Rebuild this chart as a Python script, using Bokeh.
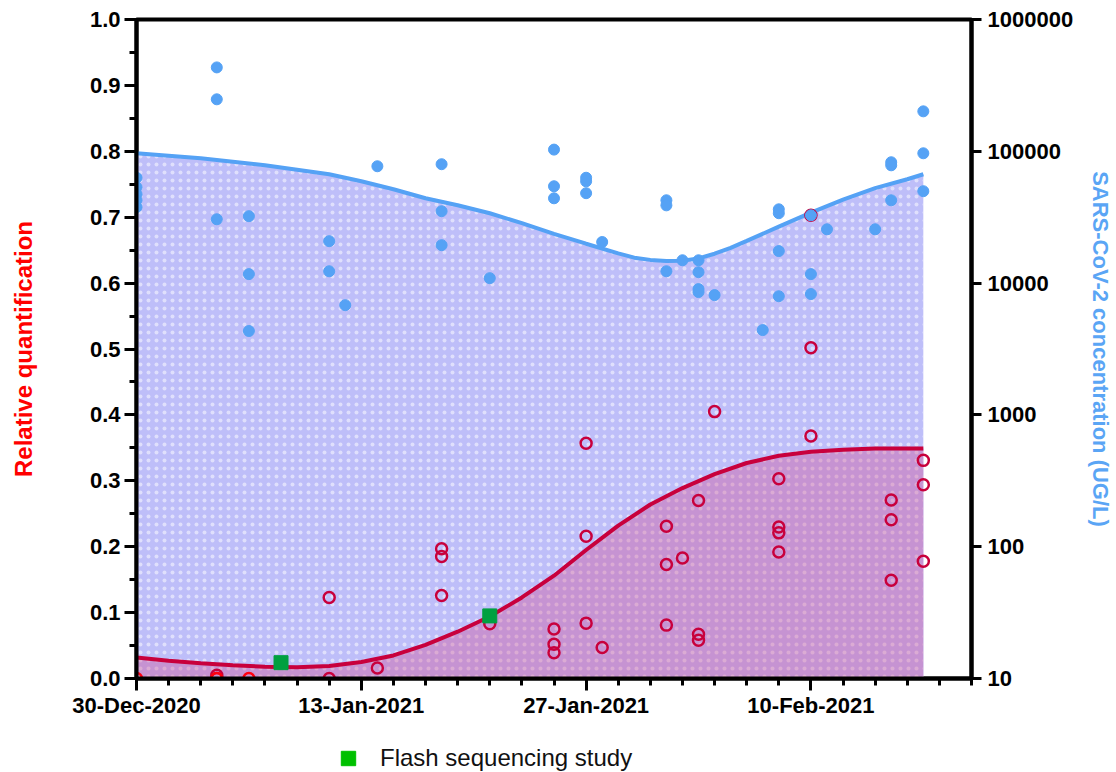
from bokeh.plotting import figure
from bokeh.layouts import column
from bokeh.models import (Range1d, LogScale, LogAxis, LinearAxis, FixedTicker,
                          Legend, LegendItem)
from bokeh.embed import file_html
from bokeh.resources import INLINE

# ---------------- data ----------------
# x: days since 30-Dec-2020
x_tick_days = [0, 14, 28, 42]
x_tick_labels = ["30-Dec-2020", "13-Jan-2021", "27-Jan-2021", "10-Feb-2021"]
x_minor_days = list(range(0, 53, 2))

y_left_ticks = [0.0, 0.1, 0.2, 0.3, 0.4, 0.5, 0.6, 0.7, 0.8, 0.9, 1.0]
y_left_labels = ["0.0", "0.1", "0.2", "0.3", "0.4", "0.5", "0.6", "0.7", "0.8", "0.9", "1.0"]
y_left_minor = [0.05, 0.15, 0.25, 0.35, 0.45, 0.55, 0.65, 0.75, 0.85, 0.95]

y_right_ticks = [10, 100, 1000, 10000, 100000, 1000000]
y_right_labels = ["10", "100", "1000", "10000", "100000", "1000000"]

# SARS-CoV-2 concentration (blue dots)
conc_days = [0, 0, 0, 0, 0, 5, 5, 5, 7, 7, 7, 12, 12, 13, 15, 19, 19, 19, 22,
             26, 26, 26, 28, 28, 28, 29, 33, 33, 33, 34, 35, 35, 35, 35, 36, 39,
             40, 40, 40, 40, 42, 42, 42, 43, 46, 47, 47, 47, 49, 49, 49]
conc_vals = [63000, 53300, 47200, 42500, 37700, 433000, 248000, 30500,
             32200, 11700, 4330, 20800, 12300, 6800, 77000, 79800, 35100, 19400,
             10900, 103000, 54300, 44000, 63000, 59200, 48100, 20500,
             42500, 38900, 12300, 14900, 14900, 12100, 9010, 8550, 8110, 4400,
             36300, 33900, 17500, 7950, 32700, 11700, 8260, 25600, 25600,
             82600, 78300, 42500, 201000, 96600, 49800]

# Relative quantification (open circles)
rq_days = [5, 12, 12, 15, 19, 19, 19, 22, 26, 26, 26, 28, 28, 28, 29,
           33, 33, 33, 34, 35, 35, 35, 36, 40, 40, 40, 40, 42, 42, 42,
           47, 47, 47, 49, 49, 49]
rq_vals = [0.005, 0.123, 0.0, 0.016, 0.197, 0.185, 0.126, 0.083,
           0.075, 0.052, 0.039, 0.357, 0.216, 0.084, 0.047,
           0.231, 0.173, 0.081, 0.183, 0.270, 0.067, 0.058, 0.405,
           0.303, 0.230, 0.221, 0.192, 0.703, 0.502, 0.368,
           0.271, 0.241, 0.149, 0.331, 0.294, 0.178]
rq_zero_days = [0, 5, 5, 7]
rq_zero_vals = [0.0, 0.0, 0.0, 0.0]

# Flash sequencing study
flash_days = [9, 22]
flash_vals = [0.024, 0.095]
flash_label = "Flash sequencing study"

# smoothed trend of concentration
conc_curve_days = [0, 4, 8, 12, 14, 16, 18, 20, 22, 24, 26, 28, 30, 31, 32, 33, 34,
                   35, 36, 37, 38, 40, 42, 44, 46, 48, 49]
conc_curve_vals = [96600, 88500, 78300, 67000, 59300, 51500, 44000, 39000, 33900,
                   28500, 23600, 19900, 16800, 15600, 15000, 14700, 14800, 15400,
                   16700, 18500, 20900, 26800, 34300, 43000, 52500, 61400, 67000]

# smoothed trend of relative quantification
rq_curve_days = [0, 2, 4, 6, 8, 10, 12, 14, 16, 18, 20, 22, 24, 26, 28, 30, 32, 34,
                 36, 38, 40, 42, 44, 46, 49]
rq_curve_vals = [0.032, 0.027, 0.023, 0.020, 0.018, 0.017, 0.019, 0.025, 0.035,
                 0.051, 0.071, 0.094, 0.123, 0.156, 0.195, 0.232, 0.264, 0.289,
                 0.310, 0.327, 0.338, 0.344, 0.347, 0.349, 0.349]

# ---------------- figure ----------------
FONT = "Liberation Sans"

p = figure(width=1116, height=730, output_backend="svg", toolbar_location=None,
           x_range=Range1d(0, 52), y_range=Range1d(0, 1.0),
           min_border_left=136, min_border_right=138, min_border_top=19,
           min_border_bottom=52, x_axis_type=None, y_axis_type=None)
p.grid.visible = False
p.outline_line_color = "black"
p.outline_line_width = 4
p.background_fill_color = "white"
p.border_fill_color = "white"

p.extra_y_ranges = {"conc": Range1d(10, 1000000)}
p.extra_y_scales = {"conc": LogScale()}

# areas
p.varea(x=conc_curve_days, y1=[10] * len(conc_curve_days), y2=conc_curve_vals,
        y_range_name="conc", fill_color="#bebef9", fill_alpha=1.0,
        hatch_pattern="dot", hatch_color="white", hatch_alpha=0.5,
        hatch_scale=8, hatch_weight=1)
p.varea(x=rq_curve_days, y1=[0] * len(rq_curve_days), y2=rq_curve_vals,
        fill_color="#c693d2", fill_alpha=1.0,
        hatch_pattern="dot", hatch_color="#f4c8d8", hatch_alpha=0.45,
        hatch_scale=8, hatch_weight=1)

# curves
p.line(conc_curve_days, conc_curve_vals, y_range_name="conc", line_color="#55a2f5",
       line_width=4)
p.line(rq_curve_days, rq_curve_vals, line_color="#c8003c", line_width=4)

# points
p.scatter(rq_days, rq_vals, marker="circle", size=11, fill_color=None,
          line_color="#c8003c", line_width=2.5)
p.scatter(rq_zero_days, rq_zero_vals, marker="circle", size=11, fill_color=None,
          line_color="#ff0010", line_width=2.5)
p.scatter(conc_days, conc_vals, y_range_name="conc", marker="circle", size=11,
          fill_color="#55a2f5", line_color="#55a2f5")
p.scatter(flash_days, flash_vals, marker="square", size=14, fill_color="#00a040",
          line_color="#00a040")

# axes
def style_axis(ax):
    ax.axis_line_width = 4
    ax.axis_line_color = "black"
    ax.major_tick_line_width = 3
    ax.minor_tick_line_width = 3
    ax.major_tick_in = 0
    ax.minor_tick_in = 0
    ax.major_label_text_font = FONT
    ax.major_label_text_font_style = "bold"
    ax.major_label_text_font_size = "22px"
    ax.major_label_text_color = "black"
    ax.axis_label_text_font = FONT
    ax.axis_label_text_font_style = "bold"
    ax.axis_label_text_font_size = "22px"

xaxis = LinearAxis(ticker=FixedTicker(ticks=x_tick_days, minor_ticks=x_minor_days))
xaxis.major_label_overrides = {d: l for d, l in zip(x_tick_days, x_tick_labels)}
style_axis(xaxis)
xaxis.major_tick_out = 12
xaxis.minor_tick_out = 7
xaxis.major_label_standoff = 2
p.add_layout(xaxis, "below")

yaxis = LinearAxis(ticker=FixedTicker(ticks=y_left_ticks, minor_ticks=y_left_minor),
                   axis_label="Relative quantification")
yaxis.major_label_overrides = {v: l for v, l in zip(y_left_ticks, y_left_labels)}
style_axis(yaxis)
yaxis.major_tick_out = 12
yaxis.minor_tick_out = 7
yaxis.major_label_standoff = 4
yaxis.axis_label_text_color = "#ff0000"
yaxis.axis_label_text_font_size = "24px"
yaxis.axis_label_standoff = 50
p.add_layout(yaxis, "left")

raxis = LogAxis(y_range_name="conc",
                ticker=FixedTicker(ticks=y_right_ticks, minor_ticks=[]),
                axis_label="SARS-CoV-2 concentration (UG/L)")
raxis.major_label_overrides = {v: l for v, l in zip(y_right_ticks, y_right_labels)}
style_axis(raxis)
raxis.major_tick_out = 10
raxis.minor_tick_out = 0
raxis.major_label_standoff = 6
raxis.axis_label_text_color = "#5aa5f5"
raxis.axis_label_standoff = 12
p.add_layout(raxis, "right")

# ---------------- legend strip ----------------
pl = figure(width=1116, height=42, output_backend="svg", toolbar_location=None,
            x_range=Range1d(0, 1), y_range=Range1d(0, 1), min_border=0,
            x_axis_type=None, y_axis_type=None, outline_line_color=None)
pl.grid.visible = False
legend_r = pl.scatter(x=[-1], y=[-1], marker="square", size=15, fill_color="#00c000",
                      line_color="#00c000")
legend = Legend(items=[LegendItem(label=flash_label, renderers=[legend_r])],
                location=(194, -4), orientation="horizontal",
                border_line_color=None, background_fill_alpha=0,
                padding=0, margin=0, glyph_width=36, glyph_height=36,
                label_standoff=14, label_text_font=FONT, label_text_font_size="24px",
                label_text_color="#111111")
pl.add_layout(legend, "center")

layout = column(p, pl, spacing=0)
open("out.html", "w").write(file_html(layout, INLINE))
